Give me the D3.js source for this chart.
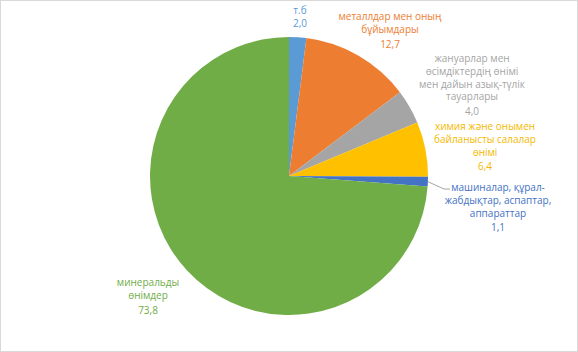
<!DOCTYPE html>
<html>
<head>
<meta charset="utf-8">
<script src="https://cdn.jsdelivr.net/npm/d3@7"></script>
<style>
  body { margin: 0; background: #fff; }
  text { font-family: "Open Sans", "Liberation Sans", sans-serif; }
</style>
</head>
<body>
<div id="chart"></div>
<script>
// data, clockwise from 12 o'clock
const categories = ["т.б", "металлдар мен оның бұйымдары", "жануарлар мен өсімдіктердің өнімі мен дайын азық-түлік тауарлары", "химия және онымен байланысты салалар өнімі", "машиналар, құрал-жабдықтар, аспаптар, аппараттар", "минеральды өнімдер"];
const values = [2.0, 12.7, 4.0, 6.4, 1.1, 73.8];
const labelLines = [
  ["т.б"],
  ["металлдар мен оның", "бұйымдары"],
  ["жануарлар мен", "өсімдіктердің өнімі", "мен дайын азық-түлік", "тауарлары"],
  ["химия және онымен", "байланысты салалар", "өнімі"],
  ["машиналар, құрал-", "жабдықтар, аспаптар,", "аппараттар"],
  ["минеральды", "өнімдер"]
];
const colors = ["#5B9BD5", "#ED7D31", "#A5A5A5", "#FFC000", "#4472C4", "#70AD47"];
const labelColors = ["#5B9BD5", "#ED7D31", "#A5A5A5", "#F5B800", "#4472C4", "#70AD47"];
// label anchor (center x, first line y)
const labelPos = [[300, 14], [390, 20], [472, 62], [485, 130], [498, 191], [148, 286]];

const width = 578, height = 352;
const cx = 289, cy = 176, radius = 139;

const svg = d3.select("#chart").append("svg")
    .attr("width", width)
    .attr("height", height);

svg.append("rect")
    .attr("x", 0.5).attr("y", 0.5)
    .attr("width", width - 1).attr("height", height - 1)
    .attr("fill", "#fff")
    .attr("stroke", "#d9d9d9");

const pie = d3.pie().sort(null).value(d => d);
const arcs = pie(values);
const arc = d3.arc().innerRadius(0).outerRadius(radius);

const g = svg.append("g").attr("transform", `translate(${cx},${cy})`);

g.selectAll("path")
  .data(arcs)
  .join("path")
  .attr("d", arc)
  .attr("fill", (d, i) => colors[i]);

// leader line for the small machine slice
const mArc = arcs[4];
const mid = (mArc.startAngle + mArc.endAngle) / 2;
const p0 = [Math.sin(mid) * radius, -Math.cos(mid) * radius];
svg.append("polyline")
  .attr("points", [[cx + p0[0], cy + p0[1]], [444, 189], [450, 189]].map(p => p.join(",")).join(" "))
  .attr("fill", "none")
  .attr("stroke", "#a6a6a6")
  .attr("stroke-width", 1);

const lineH = 12.8;
const labels = svg.selectAll("g.lbl")
  .data(arcs)
  .join("g")
  .attr("class", "lbl")
  .attr("transform", (d, i) => `translate(${labelPos[i][0]},${labelPos[i][1]})`);

labels.each(function(d, i) {
  const t = d3.select(this).append("text")
    .attr("text-anchor", "middle")
    .attr("font-size", "10px")
    .attr("fill", labelColors[i]);
  labelLines[i].forEach((ln, k) => {
    t.append("tspan").attr("x", 0).attr("y", k * lineH).text(ln);
  });
  t.append("tspan").attr("x", 0)
    .attr("y", labelLines[i].length * lineH + (i === 0 ? 0 : 2))
    .text(d3.format(".1f")(values[i]).replace(".", ","));
});
</script>
</body>
</html>
